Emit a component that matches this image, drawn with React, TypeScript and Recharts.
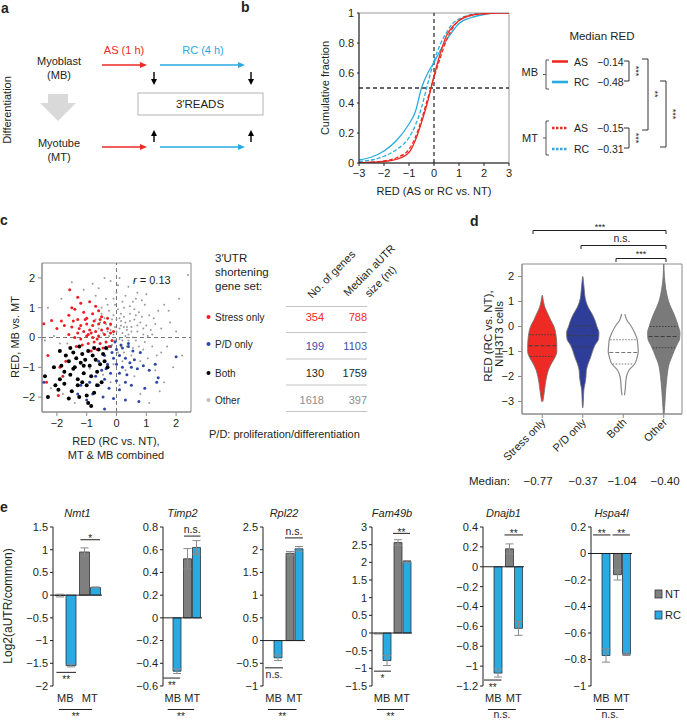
import React from "react";
import {
  LineChart, Line, XAxis, YAxis, ReferenceLine, ReferenceArea,
  ScatterChart, Scatter, ComposedChart, Area, BarChart, Bar, ErrorBar,
} from "recharts";

const FONT = '"Liberation Sans", Arial, Helvetica, sans-serif';
const INK = "#231f20";
const RED = "#ee2a24";
const CYAN = "#29abe2";
const NAVY = "#2e3d98";
const FRAME = "#8c8c8c";

const fmt = (v: number) => (v < 0 ? "\u2212" + String(-v) : String(v));

// ---- b: cumulative fraction of RED
const cdfX = [-3, -2.5, -2, -1.5, -1, -0.75, -0.5, -0.25, 0, 0.25, 0.5, 0.75, 1, 1.5, 2, 2.5, 3];
const mbAS = [0, 0.005, 0.01, 0.025, 0.07, 0.15, 0.27, 0.41, 0.58, 0.73, 0.85, 0.91, 0.95, 0.985, 0.995, 1, 1];
const mtAS = [0, 0.006, 0.014, 0.035, 0.09, 0.17, 0.29, 0.43, 0.57, 0.7, 0.82, 0.9, 0.95, 0.985, 0.995, 1, 1];
const mbRC = [0.02, 0.04, 0.08, 0.15, 0.26, 0.34, 0.5, 0.6, 0.67, 0.75, 0.82, 0.88, 0.93, 0.97, 0.99, 1, 1];
const mtRC = [0.01, 0.02, 0.045, 0.09, 0.17, 0.25, 0.37, 0.53, 0.68, 0.79, 0.87, 0.93, 0.96, 0.99, 1, 1, 1];
const cdfRows = cdfX.map((x, i) => ({ x, mbAS: mbAS[i], mtAS: mtAS[i], mbRC: mbRC[i], mtRC: mtRC[i] }));

// ---- c: RED scatter, by gene set
const stressOnly: [number, number][] = [
  [-1.57, 1.6], [-1.3, 1.35], [-1.2, 1.15], [-1.5, 1.0], [-1.4, 0.95], [-0.9, 1.2], [-0.7, 1.05], [-1.1, 0.85],
  [-0.8, 0.8], [-1.6, 0.75], [-0.6, 0.9], [-1.0, 0.65], [-1.3, 0.6], [-0.5, 0.7], [-0.75, 0.55], [-2.18, 0.57],
  [-2.44, 0.46], [-1.85, 0.55], [-2.0, 0.3], [-1.75, 0.4], [-1.5, 0.35], [-1.2, 0.4], [-1.0, 0.45], [-0.8, 0.4],
  [-0.6, 0.45], [-0.4, 0.5], [-0.3, 0.3], [-0.5, 0.25], [-0.7, 0.2], [-0.9, 0.25], [-1.1, 0.2], [-1.3, 0.15],
  [-1.6, 0.1], [-1.4, 0.0], [-1.2, -0.05], [-1.0, 0.05], [-0.8, 0.0], [-0.6, 0.05], [-0.4, 0.1], [-0.2, 0.15],
  [-0.15, -0.1], [-0.35, -0.15], [-0.55, -0.2], [-0.75, -0.15], [-0.95, -0.2], [-1.15, -0.25], [-1.35, -0.3],
  [-0.45, -0.35], [-0.65, -0.4], [-0.85, -0.45], [-0.25, -0.3], [-1.05, 0.6], [-0.55, 0.6], [-0.2, 0.45],
  [-0.1, 0.2], [-2.3, -0.6], [-2.1, -1.0], [-1.9, -1.0], [-2.35, -1.5], [-1.95, -1.95], [-1.8, -1.3], [-1.7, -0.8],
  [-1.45, 0.55], [-0.95, 0.1], [-0.65, -0.05], [-0.3, 0.65], [-1.25, 0.3], [-0.85, 0.15],
];
const pdOnly: [number, number][] = [
  [-0.2, -0.3], [0.0, -0.4], [0.2, -0.35], [0.4, -0.3], [0.55, -0.45], [-0.4, -0.6], [-0.1, -0.7], [0.1, -0.6],
  [0.3, -0.7], [-0.6, -0.8], [-0.3, -0.9], [0.0, -0.9], [0.2, -1.0], [0.5, -1.0], [0.7, -1.05], [-0.5, -1.1],
  [-0.2, -1.2], [0.1, -1.2], [0.35, -1.25], [-0.7, -1.3], [-0.4, -1.4], [0.0, -1.45], [0.3, -1.5], [-0.9, -1.5],
  [-0.6, -1.6], [-0.25, -1.7], [0.1, -1.75], [0.5, -1.6], [-0.8, -1.9], [-0.45, -2.0], [-0.1, -2.05], [0.3, -2.1],
  [0.75, -2.15], [-0.4, -2.4], [0.9, -0.95], [1.1, -1.1], [1.3, -0.9], [1.4, -1.35], [1.35, -1.5], [0.95, -1.7],
  [2.0, -0.65], [0.8, -0.5], [0.6, -0.75], [-1.2, -1.6], [-1.0, -2.1], [-1.3, -1.9], [-2.44, -1.5], [0.4, -0.2],
  [-0.05, -0.15], [-0.15, -0.5], [0.15, -0.25], [-0.35, -1.05], [0.45, -0.85],
];
const bothSets: [number, number][] = [
  [-2.3, -2.0], [-2.4, -1.3], [-2.1, -1.0], [-1.95, -1.75], [-1.85, -0.95], [-1.75, -1.55], [-1.7, -0.6],
  [-1.6, -0.8], [-1.55, -1.25], [-1.5, -1.8], [-1.45, -0.5], [-1.4, -1.0], [-1.35, -0.7], [-1.3, -1.4],
  [-1.25, -2.0], [-1.2, -0.85], [-1.15, -0.55], [-1.1, -1.2], [-1.05, -0.75], [-1.0, -1.6], [-0.95, -0.45],
  [-0.9, -0.95], [-0.85, -1.3], [-0.8, -0.6], [-0.75, -1.85], [-0.7, -0.75], [-0.65, -1.15], [-0.6, -0.4],
  [-0.55, -0.9], [-0.5, -1.5], [-0.45, -0.55], [-0.4, -0.8], [-0.35, -0.35], [-0.3, -1.0], [-1.6, -2.05],
  [-1.9, -1.4], [-2.05, -1.6], [-1.3, -1.6], [-1.0, -1.95], [-0.95, -2.2], [-1.45, -1.05], [-1.25, -0.3],
  [-0.75, -0.35], [-1.75, -1.15], [-1.15, -1.5], [-0.65, -1.6], [-0.85, -2.3], [-1.55, -0.35], [-1.9, -0.45],
  [-1.1, -0.95],
];
const otherGenes: [number, number][] = [
  [-0.1, 0.1], [0.1, 0.3], [0.2, -0.1], [0.3, 0.5], [0.0, 0.6], [-0.2, 0.4], [0.4, 0.1], [0.5, 0.35], [0.15, 0.8],
  [-0.3, 0.2], [0.6, 0.6], [0.7, 0.2], [0.35, -0.3], [-0.15, -0.25], [0.05, -0.5], [0.25, 1.0], [-0.05, 1.1],
  [0.45, 0.8], [0.8, 0.5], [0.9, 0.1], [1.0, 0.4], [0.65, -0.1], [0.55, 1.2], [0.3, 1.4], [-0.25, 0.9],
  [-0.4, 0.65], [-0.5, 1.0], [-0.6, 0.3], [0.1, -0.05], [0.2, 0.15], [-0.05, 0.35], [0.35, 0.25], [0.15, 0.55],
  [-0.1, 0.75], [0.75, 0.85], [1.1, 0.75], [1.2, 0.1], [1.3, 0.45], [1.5, 0.3], [1.4, 0.9], [0.95, 1.1],
  [0.7, 1.5], [0.4, 1.7], [0.0, 1.5], [-0.2, 1.9], [-0.35, 1.3], [-0.7, 1.4], [-0.8, 1.8], [0.1, 2.0],
  [1.0, 1.45], [1.6, 1.1], [1.8, 0.5], [2.0, 0.2], [2.2, -0.6], [1.7, -0.3], [1.5, -0.5], [1.2, -0.3],
  [0.9, -0.4], [0.8, -0.8], [1.05, -0.7], [0.5, -0.6], [0.2, -0.8], [-0.1, -0.9], [0.3, -1.1], [0.6, -1.3],
  [1.3, -1.1], [1.9, -1.0], [1.6, -1.5], [-1.5, 1.85], [-1.1, 1.6], [-0.6, 1.65], [-1.85, 1.3], [-2.3, 1.0],
  [-2.1, 0.05], [-1.9, -0.2], [-2.4, -0.1], [-1.65, -0.2], [-1.8, -1.9], [-2.2, -1.7], [-1.4, -2.2],
  [-0.9, -1.05], [-0.45, -1.25], [-0.2, -1.5], [0.1, -1.6], [0.8, -1.9], [1.1, -2.2], [1.45, -1.8], [0.55, 0.0],
  [0.45, 0.55], [0.25, 0.7], [0.05, 0.95], [-0.15, 0.6], [-0.35, 0.45], [0.6, 0.95], [0.85, 0.7], [1.15, 0.25],
  [0.95, -0.15], [0.7, 0.4], [0.4, -0.1], [0.15, 0.4], [-0.25, 0.05], [-0.45, 0.15], [-0.05, -0.1], [0.3, 0.05],
  [0.5, 0.2], [0.2, 1.2], [0.45, 1.05], [-0.1, 1.3], [-0.5, 0.8], [-0.7, 0.6], [0.65, 1.3], [1.25, 0.65],
  [0.35, 0.35], [0.1, 0.65], [0.0, 0.2], [0.25, -0.5], [-0.3, -0.4], [0.75, -0.3], [1.35, -0.6], [1.75, 0.9],
  [2.1, 1.3], [2.4, 2.1], [1.2, 1.8], [0.6, 1.9], [-0.4, 2.0], [-0.3, 1.1], [0.05, 1.75], [0.85, 1.25],
  [1.05, 0.05], [0.25, 0.35], [-0.2, 0.25], [0.55, -0.35], [0.9, 0.3], [0.15, -0.3], [-0.55, 0.5], [0.65, 0.75],
];
const toPts = (a: [number, number][]) => a.map(([x, y]) => ({ x, y }));

// ---- d: violin half-widths (x units) along RED
const violinCats = ["Stress only", "P/D only", "Both", "Other"];
const vY = [2.5, 2.25, 2, 1.75, 1.5, 1.25, 1, 0.75, 0.5, 0.25, 0, -0.25, -0.5, -0.75, -1, -1.25, -1.5, -1.75, -2, -2.25, -2.5, -2.75, -3, -3.25, -3.5];
const wStress = [null, null, null, null, null, 0.005, 0.03, 0.07, 0.14, 0.21, 0.29, 0.33, 0.35, 0.36, 0.36, 0.31, 0.22, 0.15, 0.11, 0.08, 0.06, 0.04, 0.015, null, null];
const wPD = [null, null, 0.005, 0.02, 0.035, 0.05, 0.08, 0.14, 0.23, 0.3, 0.35, 0.4, 0.39, 0.3, 0.24, 0.19, 0.13, 0.09, 0.08, 0.06, 0.03, 0.02, 0.015, 0.005, null];
const wBoth = [null, null, null, null, null, null, null, null, 0.04, 0.09, 0.2, 0.28, 0.34, 0.36, 0.37, 0.34, 0.28, 0.14, 0.08, 0.06, 0.05, 0.03, null, null, null];
const wOther = [0.003, 0.008, 0.015, 0.03, 0.05, 0.08, 0.12, 0.18, 0.25, 0.31, 0.36, 0.4, 0.39, 0.32, 0.25, 0.19, 0.13, 0.1, 0.08, 0.065, 0.05, 0.04, 0.03, 0.02, 0.008];
const violinW = [wStress, wPD, wBoth, wOther];
const q1 = [-1.2, -0.82, -1.5, -0.85];
const q2 = [-0.77, -0.37, -1.04, -0.4];
const q3 = [-0.33, 0.02, -0.53, 0.0];
const medianLabels = ["\u22120.77", "\u22120.37", "\u22121.04", "\u22120.40"];

const violinRows = (k: number) =>
  vY.flatMap((y, i) => {
    const w = violinW[k][i];
    return w == null ? [] : [{ y, v: [k + 1 - w, k + 1 + w] }];
  });
const widthAt = (k: number, y: number) => {
  const w = violinW[k];
  for (let i = 0; i < vY.length - 1; i++) {
    if (y <= vY[i] && y >= vY[i + 1]) {
      const a = w[i] ?? 0, b = w[i + 1] ?? 0;
      const t = (vY[i] - y) / (vY[i] - vY[i + 1]);
      return a + (b - a) * t;
    }
  }
  return 0;
};

// ---- e: aUTR / common ratios
const genes = ["Nmt1", "Timp2", "Rpl22", "Fam49b", "Dnajb1", "Hspa4l"];
const ntMB = [-0.01, 0, 0, -0.01, 0, 0];
const ntMBErr = [0.03, 0.04, 0.13, 0.02, 0.11, 0.09];
const rcMB = [-1.55, -0.47, -0.38, -0.78, -1.07, -0.77];
const rcMBErr = [0.03, 0.02, 0.06, 0.14, 0.04, 0.05];
const ntMT = [0.95, 0.52, 1.92, 2.56, 0.18, -0.16];
const ntMTErr = [0.09, 0.09, 0.04, 0.08, 0.05, 0.04];
const rcMT = [0.17, 0.62, 2.02, 2.02, -0.62, -0.76];
const rcMTErr = [0.01, 0.06, 0.05, 0.03, 0.07, 0.01];
const geneDomain = [[-2, 1.5], [-0.6, 0.8], [-1, 2.5], [-1.5, 3], [-1.2, 0.4], [-1, 0.2]];
const geneTicks = [
  [-2, -1.5, -1, -0.5, 0, 0.5, 1, 1.5],
  [-0.6, -0.4, -0.2, 0, 0.2, 0.4, 0.6, 0.8],
  [-1, -0.5, 0, 0.5, 1, 1.5, 2, 2.5],
  [-1.5, -1, -0.5, 0, 0.5, 1, 1.5, 2, 2.5, 3],
  [-1.2, -1, -0.8, -0.6, -0.4, -0.2, 0, 0.2, 0.4],
  [-1, -0.8, -0.6, -0.4, -0.2, 0, 0.2],
];
// significance brackets: x in group units (MB = 0..1, MT = 1..2), y in data units
const geneSig = [
  [{ x1: 1.12, x2: 1.92, y: 1.22, text: "*", up: true }, { x1: 0.14, x2: 0.94, y: -1.7, text: "**", up: false }],
  [{ x1: 1.08, x2: 1.92, y: 0.72, text: "n.s.", up: true }, { x1: 0.02, x2: 0.88, y: -0.53, text: "**", up: false }],
  [{ x1: 1.05, x2: 1.9, y: 2.26, text: "n.s.", up: true }, { x1: 0.1, x2: 0.95, y: -0.6, text: "n.s.", up: false }],
  [{ x1: 1.05, x2: 1.9, y: 2.82, text: "**", up: true }, { x1: 0.1, x2: 0.95, y: -1.08, text: "*", up: false }],
  [{ x1: 1.05, x2: 1.95, y: 0.32, text: "**", up: true }, { x1: 0.05, x2: 0.9, y: -1.14, text: "**", up: false }],
  [{ x1: 0.1, x2: 0.95, y: 0.14, text: "**", up: true }, { x1: 1.05, x2: 1.9, y: 0.14, text: "**", up: true }],
];
const geneBottomSig = ["**", "**", "**", "**", "n.s.", "n.s."];
const geneAxisX = [53, 163, 263, 372, 483, 591];
const genePlotW = [49, 39, 42, 40, 41, 41];
const GENE_TOP = 527;
const GENE_H = 159;

const tickStyle = { fontSize: 11, fill: INK };

function CdfPanel() {
  return (
    <div style={{ position: "absolute", left: 300, top: 0 }}>
      <LineChart width={215} height={200} data={cdfRows} margin={{ top: 13, right: 6, bottom: 0, left: 0 }}>
        <ReferenceArea x1={-3} x2={3} y1={0} y2={1} fill="none" stroke="#999" strokeWidth={1} />
        <XAxis type="number" dataKey="x" domain={[-3, 3]} ticks={[-3, -2, -1, 0, 1, 2, 3]} tickFormatter={fmt}
          height={37} tick={tickStyle} stroke={INK} tickSize={3} tickMargin={3} interval={0} allowDataOverflow />
        <YAxis type="number" domain={[0, 1]} ticks={[0, 0.2, 0.4, 0.6, 0.8, 1]} width={59} tick={tickStyle}
          stroke={INK} tickSize={2} tickMargin={3} interval={0} allowDataOverflow />
        <ReferenceLine x={0} stroke="#333" strokeDasharray="4 3" strokeWidth={1.3} />
        <ReferenceLine y={0.5} stroke="#333" strokeDasharray="4 3" strokeWidth={1.3} />
        <Line dataKey="mtRC" type="monotone" stroke={CYAN} strokeWidth={1.3} strokeDasharray="4 2" dot={false} isAnimationActive={false} />
        <Line dataKey="mbRC" type="monotone" stroke={CYAN} strokeWidth={1.3} dot={false} isAnimationActive={false} />
        <Line dataKey="mtAS" type="monotone" stroke={RED} strokeWidth={1.3} strokeDasharray="4 2" dot={false} isAnimationActive={false} />
        <Line dataKey="mbAS" type="monotone" stroke={RED} strokeWidth={1.3} dot={false} isAnimationActive={false} />
      </LineChart>
    </div>
  );
}

const dotShape = (r: number, fill: string) => (p: any) => <circle cx={p.cx} cy={p.cy} r={r} fill={fill} />;

function ScatterPanel() {
  return (
    <div style={{ position: "absolute", left: 0, top: 250 }}>
      <ScatterChart width={195} height={190} margin={{ top: 13, right: 4, bottom: 0, left: 0 }}>
        <ReferenceArea x1={-2.5} x2={2.5} y1={-2.5} y2={2.5} fill="none" stroke={FRAME} />
        <XAxis type="number" dataKey="x" domain={[-2.5, 2.5]} ticks={[-2, -1, 0, 1, 2]} tickFormatter={fmt}
          height={28} tick={tickStyle} stroke={FRAME} tickSize={4} tickMargin={3} interval={0} allowDataOverflow />
        <YAxis type="number" dataKey="y" domain={[-2.5, 2.5]} ticks={[-2, -1, 0, 1, 2]} tickFormatter={fmt}
          width={42} tick={tickStyle} stroke={FRAME} tickSize={4} tickMargin={3} interval={0} allowDataOverflow />
        <ReferenceLine x={0} stroke="#777" strokeDasharray="4 3" />
        <ReferenceLine y={0} stroke="#777" strokeDasharray="4 3" />
        <Scatter data={toPts(otherGenes)} shape={dotShape(1, "#9a9a9a")} isAnimationActive={false} />
        <Scatter data={toPts(pdOnly)} shape={dotShape(1.5, "#2f46a8")} isAnimationActive={false} />
        <Scatter data={toPts(stressOnly)} shape={dotShape(1.5, "#ee1d23")} isAnimationActive={false} />
        <Scatter data={toPts(bothSets)} shape={dotShape(2, "#000")} isAnimationActive={false} />
      </ScatterChart>
    </div>
  );
}

const ViolinTick = (p: any) => {
  const x = p.x + 4, y = p.y + 3;
  return (
    <text x={x} y={y} transform={`rotate(-45 ${x} ${y})`} textAnchor="end" fontSize={11} fill={INK}>
      {violinCats[p.payload.value - 1]}
    </text>
  );
};

// one chart per violin, stacked on the same plot area so the scales coincide
function ViolinLayer({ k }: { k: number }) {
  const fills = [RED, NAVY, "#ffffff", "#7a7a7a"];
  const first = k === 0;
  return (
    <div style={{ position: "absolute", left: 480, top: 250 }}>
      <ComposedChart layout="vertical" width={205} height={250} data={violinRows(k)} margin={{ top: 14, right: 3, bottom: 0, left: 0 }}>
        {first && <ReferenceArea x1={0.5} x2={4.45} y1={-3.5} y2={2.5} fill="none" stroke={FRAME} />}
        <XAxis type="number" domain={[0.5, 4.45]} ticks={[1, 2, 3, 4]} height={86}
          tick={first ? <ViolinTick /> : false} axisLine={first} tickLine={first}
          stroke={FRAME} tickSize={4} tickMargin={2} interval={0} allowDataOverflow />
        <YAxis type="number" dataKey="y" domain={[-3.5, 2.5]} ticks={[-3, -2, -1, 0, 1, 2]} tickFormatter={fmt} reversed
          width={42} tick={first ? tickStyle : false} axisLine={first} tickLine={first}
          stroke={FRAME} tickSize={4} tickMargin={4} interval={0} allowDataOverflow />
        <Area dataKey="v" type="monotone" fill={fills[k]} fillOpacity={1}
          stroke={k === 2 ? "#8a8a8a" : "#6f6f6f"} strokeWidth={k === 2 ? 1.2 : 0.8} isAnimationActive={false} />
        {[q1[k], q2[k], q3[k]].map((q, j) => {
          const w = widthAt(k, q) - 0.02;
          return (
            <ReferenceLine key={j} segment={[{ x: k + 1 - w, y: q }, { x: k + 1 + w, y: q }]}
              stroke={k === 2 ? "#777" : "#3d3d3d"} strokeDasharray={j === 1 ? "4 2" : "1.5 1.5"} strokeWidth={1} />
          );
        })}
      </ComposedChart>
    </div>
  );
}

function GeneChart({ g }: { g: number }) {
  const data = [
    { grp: "MB", nt: ntMB[g], ntErr: ntMBErr[g], rc: rcMB[g], rcErr: rcMBErr[g] },
    { grp: "MT", nt: ntMT[g], ntErr: ntMTErr[g], rc: rcMT[g], rcErr: rcMTErr[g] },
  ];
  const plotW = genePlotW[g];
  const barSize = Math.round(plotW * 0.2);
  return (
    <div style={{ position: "absolute", left: geneAxisX[g] - 45, top: GENE_TOP - 22 }}>
      <BarChart width={45 + plotW + 4} height={22 + GENE_H + 20} data={data} margin={{ top: 22, right: 4, bottom: 0, left: 0 }}
        barGap={1} barSize={barSize}>
        <XAxis dataKey="grp" height={20} axisLine={false} tickLine={false} tick={tickStyle} interval={0} />
        <YAxis type="number" domain={geneDomain[g]} ticks={geneTicks[g]} tickFormatter={fmt} width={45}
          tick={tickStyle} stroke={INK} tickSize={3} tickMargin={2} interval={0} allowDataOverflow />
        <ReferenceLine y={0} stroke={INK} strokeWidth={1} />
        <Bar dataKey="nt" fill="#7f7f7f" stroke="#333" strokeWidth={0.8} isAnimationActive={false}>
          <ErrorBar dataKey="ntErr" width={4} stroke="#8a8a8a" strokeWidth={1} direction="y" />
        </Bar>
        <Bar dataKey="rc" fill={CYAN} stroke="#2a3640" strokeWidth={0.8} isAnimationActive={false}>
          <ErrorBar dataKey="rcErr" width={4} stroke="#8a8a8a" strokeWidth={1} direction="y" />
        </Bar>
      </BarChart>
    </div>
  );
}

function GeneBrackets({ g }: { g: number }) {
  const ax = geneAxisX[g], w = genePlotW[g];
  const [lo, hi] = geneDomain[g];
  const py = (v: number) => GENE_TOP + ((hi - v) / (hi - lo)) * GENE_H;
  return (
    <g>
      {geneSig[g].map((s, i) => {
        const y = py(s.y), x1 = ax + (s.x1 * w) / 2, x2 = ax + (s.x2 * w) / 2;
        const ns = s.text === "n.s.";
        const ty = s.up ? (ns ? y - 3 : y + 2.5) : (ns ? y + 10 : y + 10.5);
        return (
          <g key={i}>
            <line x1={x1} x2={x2} y1={y} y2={y} stroke={INK} strokeWidth={1} />
            <text x={(x1 + x2) / 2} y={ty} textAnchor="middle" fontSize={ns ? 10.5 : 10} fill={INK}>{s.text}</text>
          </g>
        );
      })}
    </g>
  );
}

function Overlay() {
  const t = { fill: INK, fontSize: 11 };
  const star = (x: number, y: number, s: string) => (
    <text x={x} y={y} transform={`rotate(90 ${x} ${y})`} textAnchor="middle" dominantBaseline="central" fontSize={9} fill={INK}>{s}</text>
  );
  const rowY = [321, 348, 377, 404];
  const rowLabels = ["Stress only", "P/D only", "Both", "Other"];
  const rowDots = ["#ee1d23", "#2f46a8", "#000", "#bdbdbd"];
  const rowNums = [["354", "788"], ["199", "1103"], ["130", "1759"], ["1618", "397"]];
  const rowCols = [RED, "#3a4fa8", INK, "#8c8c8c"];
  return (
    <svg width={687} height={721} style={{ position: "absolute", left: 0, top: 0, pointerEvents: "none" }}>
      {/* a */}
      <text x={1} y={13} fontSize={14} fontWeight="bold" fill={INK}>a</text>
      <text x={11} y={110} transform="rotate(-90 11 110)" textAnchor="middle" {...t}>Differentiation</text>
      <text x={59} y={65} textAnchor="middle" {...t}>Myoblast</text>
      <text x={59} y={79} textAnchor="middle" {...t}>(MB)</text>
      <polygon points="48,94 68,94 68,103 76,103 58,121 40,103 48,103" fill="#d9d9d9" />
      <text x={59} y={147} textAnchor="middle" {...t}>Myotube</text>
      <text x={59} y={161} textAnchor="middle" {...t}>(MT)</text>
      <text x={124} y={54} textAnchor="middle" fontSize={11} fill={RED}>AS (1 h)</text>
      <text x={203} y={54} textAnchor="middle" fontSize={11} fill={CYAN}>RC (4 h)</text>
      {[65, 147].map((y) => (
        <g key={y}>
          <line x1={102} x2={141} y1={y} y2={y} stroke={RED} strokeWidth={1.7} />
          <polygon points={`140,${y - 3} 147,${y} 140,${y + 3}`} fill={RED} />
          <line x1={160} x2={239} y1={y} y2={y} stroke={CYAN} strokeWidth={1.7} />
          <polygon points={`238,${y - 3} 245,${y} 238,${y + 3}`} fill={CYAN} />
        </g>
      ))}
      {[154, 251].map((x) => (
        <g key={x}>
          <line x1={x} x2={x} y1={72} y2={80} stroke="#000" strokeWidth={1.4} />
          <polygon points={`${x - 3},79 ${x + 3},79 ${x},85`} fill="#000" />
          <line x1={x} x2={x} y1={135} y2={142} stroke="#000" strokeWidth={1.4} />
          <polygon points={`${x - 3},136 ${x + 3},136 ${x},130`} fill="#000" />
        </g>
      ))}
      <rect x={138} y={93} width={125} height={22} fill="none" stroke="#b3b3b3" />
      <text x={200} y={108} textAnchor="middle" fontSize={11.5} fill={INK}>3′READS</text>

      {/* b */}
      <text x={241} y={12} fontSize={14} fontWeight="bold" fill={INK}>b</text>
      <text x={329} y={88} transform="rotate(-90 329 88)" textAnchor="middle" {...t}>Cumulative fraction</text>
      <text x={434} y={195} textAnchor="middle" {...t}>RED (AS or RC vs. NT)</text>
      <text x={602} y={40} textAnchor="middle" fontSize={11.5} fill={INK}>Median RED</text>
      <text x={538} y={76} textAnchor="end" {...t}>MB</text>
      <text x={538} y={142} textAnchor="end" {...t}>MT</text>
      <path d="M549 60 H546 V89 H549 M546 74.5 H543" fill="none" stroke="#555" />
      <path d="M549 121 H546 V155 H549 M546 138 H543" fill="none" stroke="#555" />
      <line x1={552} x2={568} y1={61.5} y2={61.5} stroke={RED} strokeWidth={2.6} />
      <line x1={552} x2={568} y1={82} y2={82} stroke={CYAN} strokeWidth={2.6} />
      <line x1={552} x2={568} y1={128} y2={128} stroke={RED} strokeWidth={2.6} strokeDasharray="2.5 1.5" />
      <line x1={552} x2={568} y1={149} y2={149} stroke={CYAN} strokeWidth={2.6} strokeDasharray="2.5 1.5" />
      {[["AS", "\u22120.14", 66], ["RC", "\u22120.48", 86], ["AS", "\u22120.15", 132], ["RC", "\u22120.31", 153]].map(([a, b, y]) => (
        <g key={String(y)}>
          <text x={574} y={Number(y)} fontSize={10.5} fill={INK}>{a}</text>
          <text x={597} y={Number(y)} fontSize={10.5} fill={INK}>{b}</text>
        </g>
      ))}
      <path d="M624 61 H629 V81 H624 M624 128 H629 V148 H624 M642 59 H648 V130 H642 M660 81 H666 V147 H660" fill="none" stroke="#333" />
      {star(636, 71, "***")}
      {star(636, 138, "***")}
      {star(655, 94, "**")}
      {star(673, 114, "***")}

      {/* c */}
      <text x={0} y={225} fontSize={14} fontWeight="bold" fill={INK}>c</text>
      <text x={19} y={337} transform="rotate(-90 19 337)" textAnchor="middle" {...t}>RED, MB vs. MT</text>
      <text x={116} y={445} textAnchor="middle" {...t}>RED (RC vs. NT),</text>
      <text x={116} y={459} textAnchor="middle" {...t}>MT &amp; MB combined</text>
      <text x={133} y={284} {...t}><tspan fontStyle="italic">r</tspan> = 0.13</text>
      <text x={215} y={262} fontSize={11.5} fill={INK}>3′UTR</text>
      <text x={215} y={276} fontSize={11.5} fill={INK}>shortening</text>
      <text x={215} y={290} fontSize={11.5} fill={INK}>gene set:</text>
      <text x={334} y={277} transform="rotate(-45 334 277)" textAnchor="middle" {...t}>No. of genes</text>
      <text x={372} y={273} transform="rotate(-45 372 273)" textAnchor="middle" {...t}>Median aUTR</text>
      <text x={383} y={284} transform="rotate(-45 383 284)" textAnchor="middle" {...t}>size (nt)</text>
      {[306.5, 332.5, 359, 385, 411.5].map((y) => (
        <line key={y} x1={286} x2={367} y1={y} y2={y} stroke="#c4c4c4" strokeWidth={1} />
      ))}
      {rowY.map((y, i) => (
        <g key={y}>
          <circle cx={208.5} cy={y - 4} r={2} fill={rowDots[i]} />
          <text x={215} y={y} fontSize={10} fill={INK}>{rowLabels[i]}</text>
          <text x={324} y={y + (i === 1 ? 2 : 0)} textAnchor="end" fontSize={11} fill={rowCols[i]}>{rowNums[i][0]}</text>
          <text x={367} y={y + (i === 1 ? 2 : 0)} textAnchor="end" fontSize={11} fill={rowCols[i]}>{rowNums[i][1]}</text>
        </g>
      ))}
      <text x={209} y={438} {...t}>P/D: proliferation/differentiation</text>

      {/* d */}
      <text x={470} y={226} fontSize={14} fontWeight="bold" fill={INK}>d</text>
      <text x={492} y={336} transform="rotate(-90 492 336)" textAnchor="middle" fontSize={11.5} fill={INK}>RED (RC vs. NT),</text>
      <text x={503} y={334} transform="rotate(-90 503 334)" textAnchor="middle" fontSize={11.5} fill={INK}>NIH3T3 cells</text>
      <path d="M533 234 V230.5 H666 V234 M581 249 V245.5 H666 V249 M616 262 V258.5 H666 V262" fill="none" stroke={INK} />
      <text x={600} y={230} textAnchor="middle" fontSize={9} fill={INK}>***</text>
      <text x={622} y={242} textAnchor="middle" fontSize={10.5} fill={INK}>n.s.</text>
      <text x={641} y={257} textAnchor="middle" fontSize={9} fill={INK}>***</text>
      <text x={469} y={485} fontSize={11.5} fill={INK}>Median:</text>
      {medianLabels.map((m, i) => (
        <text key={m} x={[538, 583, 622, 665][i]} y={485} textAnchor="middle" fontSize={11.5} fill={INK}>{m}</text>
      ))}

      {/* e */}
      <text x={0} y={512} fontSize={14} fontWeight="bold" fill={INK}>e</text>
      <text x={12} y={606} transform="rotate(-90 12 606)" textAnchor="middle" fontSize={12} fill={INK}>Log2(aUTR/common)</text>
      {genes.map((gname, g) => {
        const ax = geneAxisX[g], w = genePlotW[g];
        const x1 = ax + 0.12 * w, x2 = ax + 0.8 * w;
        const ns = geneBottomSig[g] === "n.s.";
        return (
          <g key={gname}>
            <text x={ax + w / 2} y={517} textAnchor="middle" fontSize={11} fontStyle="italic" fill={INK}>{gname}</text>
            <GeneBrackets g={g} />
            <line x1={x1} x2={x2} y1={709.5} y2={709.5} stroke={INK} strokeWidth={1} />
            <text x={(x1 + x2) / 2} y={ns ? 718 : 719.5} textAnchor="middle" fontSize={ns ? 10.5 : 10} fill={INK}>{geneBottomSig[g]}</text>
          </g>
        );
      })}
      <rect x={655} y={590} width={7} height={8} fill="#7f7f7f" stroke="#333" strokeWidth={0.8} />
      <rect x={655} y={611} width={7} height={8} fill={CYAN} stroke="#2a3640" strokeWidth={0.8} />
      <text x={665} y={598} {...t}>NT</text>
      <text x={665} y={619} {...t}>RC</text>
    </svg>
  );
}

export default function App() {
  return (
    <div style={{ position: "absolute", left: 0, top: 0, width: 687, height: 721, background: "#fff", fontFamily: FONT, overflow: "hidden" }}>
      <CdfPanel />
      <ScatterPanel />
      {[0, 1, 2, 3].map((k) => (
        <ViolinLayer key={k} k={k} />
      ))}
      {genes.map((g, i) => (
        <GeneChart key={g} g={i} />
      ))}
      <Overlay />
    </div>
  );
}
